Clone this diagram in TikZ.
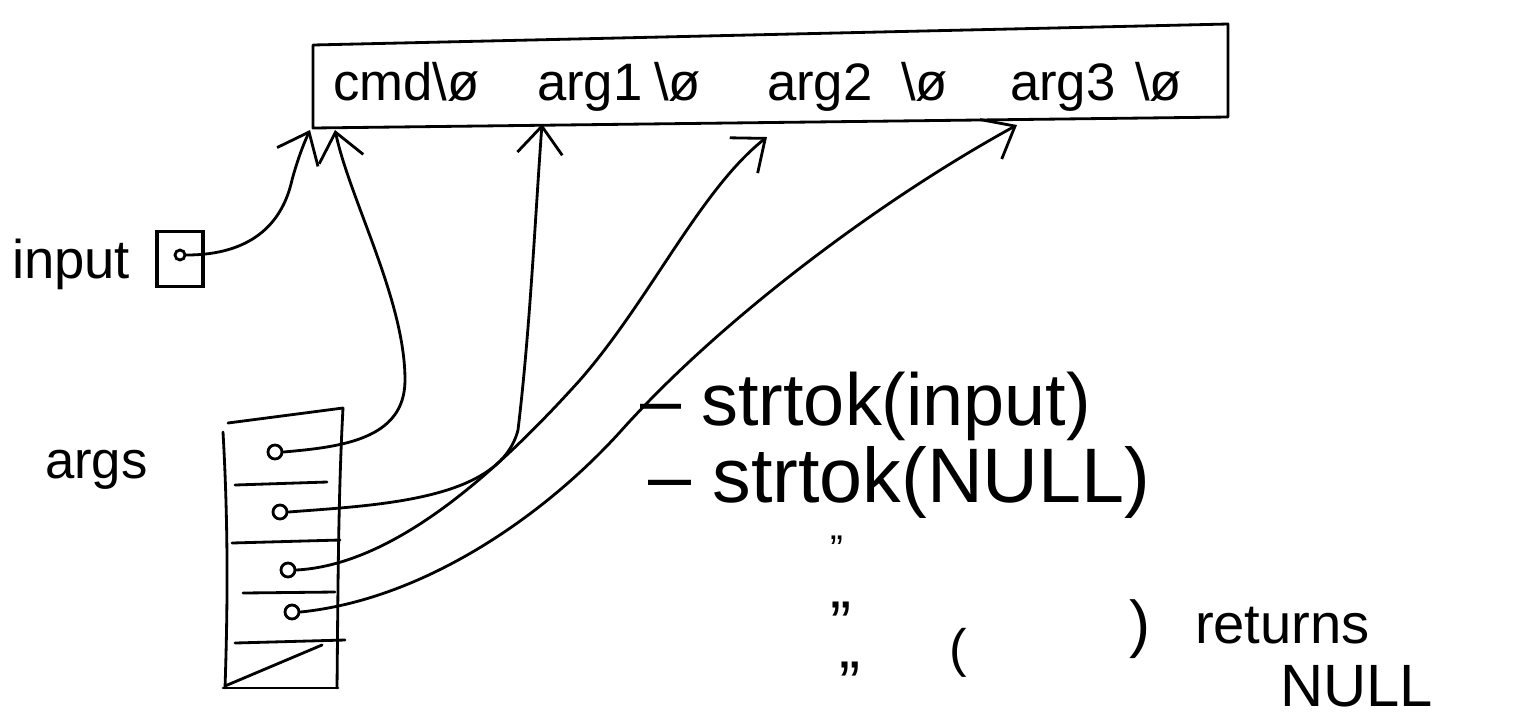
\documentclass[tikz,border=0pt]{standalone}
\usepackage{fontspec}
\setmainfont{Liberation Sans}
\usetikzlibrary{arrows.meta}
\newcommand\fsz[1]{\fontsize{#1}{#1}\selectfont}
\begin{document}
\begin{tikzpicture}[x=0.02cm,y=-0.02cm,
  ink/.style={line width=1.6pt, line cap=round, line join=round},
  arr/.style={ink, -{Straight Barb[length=0.55cm,width=0.9cm]}},
  lbl/.style={inner sep=0pt, outer sep=0pt},
  dot/.style={circle, draw, line width=1.6pt, minimum size=0.28cm, inner sep=0pt},
]
\useasboundingbox (0,0) rectangle (1528,718);

% string buffer
\draw[ink] (313,45) -- (1228,24) -- (1228,117) -- (313,128) -- cycle;
\node[lbl, anchor=base west] (cmd) at (333,100) {\fsz{30}cmd\textbackslash ø};
\node[lbl, anchor=base west] (arg1) at (537,100) {\fsz{30}arg1};
\node[lbl, anchor=base west] (z1) at (654,100) {\fsz{30}\textbackslash ø};
\node[lbl, anchor=base west] (arg2) at (767,100) {\fsz{30}arg2};
\node[lbl, anchor=base west] (z2) at (901,100) {\fsz{30}\textbackslash ø};
\node[lbl, anchor=base west] (arg3) at (1010,100) {\fsz{30}arg3};
\node[lbl, anchor=base west] (z3) at (1135,100) {\fsz{30}\textbackslash ø};

\coordinate (t0) at (310,130);
\coordinate (t1) at (335,130);
\coordinate (t2) at (542,124);
\coordinate (t3) at (767,137);
\coordinate (t4) at (1017,125);

% input
\node[lbl, anchor=base west] (inputlbl) at (12,278) {\fsz{31}input};
\node[draw, line width=1.8pt, minimum width=0.92cm, minimum height=1.1cm, inner sep=0pt] (inbox) at (180,259) {};
\node[dot, minimum size=0.2cm] (ind) at (180,255) {};
\draw[arr] (ind.east) .. controls (250,255) and (282,225) .. (292,180) .. controls (298,158) and (304,143) .. (t0);

% args array
\node[lbl, anchor=base west] (argslbl) at (45,478) {\fsz{30}args};
\draw[ink] (228,423) -- (343,408);
\draw[ink] (223,432) .. controls (228,520) and (228,600) .. (225,688);
\draw[ink] (343,408) .. controls (338,500) and (338,600) .. (337,688);
\draw[ink] (223,688) -- (338,688);
\draw[ink] (235,485) -- (327,482);
\draw[ink] (232,543) -- (340,540);
\draw[ink] (243,593) -- (335,592);
\draw[ink] (235,643) -- (345,640);
\draw[ink] (225,686) -- (322,645);

\node[dot] (d1) at (275,452) {};
\node[dot] (d2) at (280,512) {};
\node[dot] (d3) at (288,570) {};
\node[dot] (d4) at (292,612) {};

\draw[arr] (d1.east) .. controls (340,447) and (405,440) .. (405,380) .. controls (405,300) and (350,200) .. (t1);
\draw[arr] (d2.east) .. controls (380,505) and (500,500) .. (518,430) .. controls (530,330) and (535,220) .. (t2);
\draw[arr] (d3.east) .. controls (390,565) and (490,480) .. (580,380) .. controls (650,300) and (700,190) .. (t3);
\draw[arr] (d4.east) .. controls (420,600) and (540,520) .. (620,432) .. controls (720,320) and (880,200) .. (t4);

% notes
\node[lbl, anchor=base west] (s1) at (640,425) {\fsz{42}– strtok(input)};
\node[lbl, anchor=base west] (s2) at (648,502) {\fsz{44}– strtok(NULL)};
\node[lbl, anchor=north] (dit1) at (837,536) {\fsz{22}”};
\node[lbl, anchor=north] (dit2) at (841,602) {\fsz{36}”};
\node[lbl, anchor=north] (dit3) at (850,662) {\fsz{36}”};
\node[lbl, anchor=north] (lp) at (958,628) {\fsz{30}(};
\node[lbl, anchor=north] (rp) at (1140,600) {\fsz{36})};
\node[lbl, anchor=base west] (ret) at (1195,643) {\fsz{32}returns};
\node[lbl, anchor=base west] (nul) at (1280,706) {\fsz{34}NULL};
\end{tikzpicture}
\end{document}
